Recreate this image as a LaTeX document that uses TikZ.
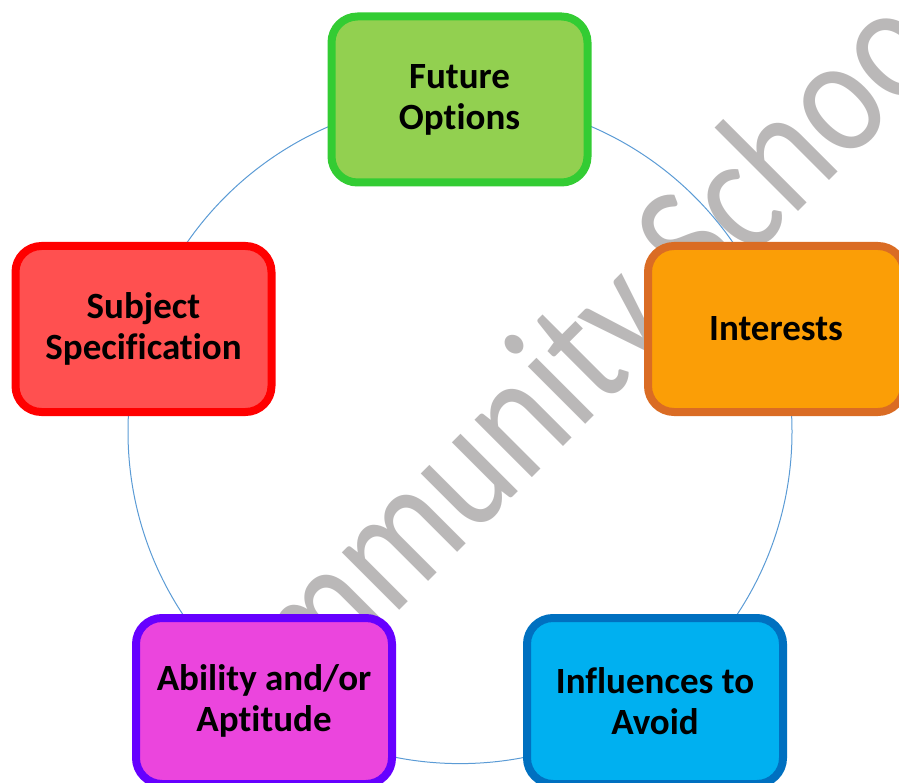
\documentclass[tikz,border=0pt]{standalone}
\usepackage{graphicx}
\usepackage{fontspec}
\setmainfont{Carlito}[Ligatures=NoCommon]
\definecolor{wmgray}{RGB}{186,184,184}
\definecolor{ringblue}{RGB}{91,155,213}
\definecolor{fgreen}{HTML}{92D050}\definecolor{dgreen}{HTML}{33CC33}
\definecolor{forange}{HTML}{FB9E06}\definecolor{dorange}{HTML}{DA6C24}
\definecolor{fblue}{HTML}{00B0F0}\definecolor{dblue}{HTML}{0070C0}
\definecolor{fpink}{HTML}{EB45DD}\definecolor{dpurple}{HTML}{6600FF}
\definecolor{fred}{HTML}{FF5050}\definecolor{dred}{HTML}{FF0000}
\tikzset{
  topicbox/.style={draw, line width=8pt, rounded corners=26pt,
    minimum width=256pt, minimum height=166pt, inner sep=0pt,
    align=center, text=black,
    font=\bfseries\fontsize{37}{41}\selectfont},
  ring/.style={draw=ringblue, line width=1pt},
  watermark/.style={text=wmgray, inner sep=0pt, anchor=base west, rotate=45,
    font=\fontsize{170}{170}\selectfont}
}
\begin{document}
\begin{tikzpicture}[x=1pt,y=-1pt]
\useasboundingbox (0,0) rectangle (899,783);
\clip (0,0) rectangle (899,783);
\node[watermark] (wm) at (206,804) {\scalebox{0.835}[1]{Community School}};
\coordinate (c) at (460,431.6);
\draw[ring] (c) circle[radius=332pt];
\node[topicbox, fill=fgreen, draw=dgreen] (fo) at (459.5,99.5) {Future\\Options};
\node[topicbox, fill=forange, draw=dorange] (in) at (776,329) {Interests};
\node[topicbox, fill=fblue, draw=dblue] (ia) at (655,701) {Influences to\\Avoid};
\node[topicbox, fill=fpink, draw=dpurple] (ab) at (264,701) {Ability and/or\\Aptitude};
\node[topicbox, fill=fred, draw=dred] (ss) at (143.5,329) {Subject\\Specification};
\end{tikzpicture}
\end{document}
